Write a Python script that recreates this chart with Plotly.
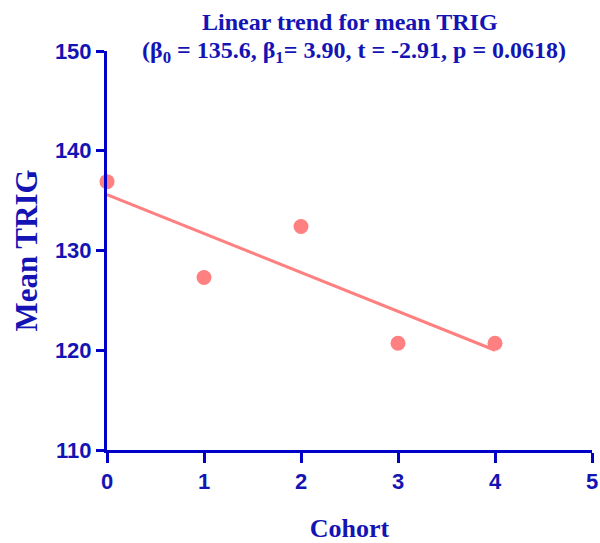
import plotly.graph_objects as go

cohort = [0, 1, 2, 3, 4]
mean_trig = [136.9, 127.3, 132.4, 120.7, 120.7]
beta0 = 135.6
slope = -3.90
trend_x = [0, 4]
trend_y = [beta0 + slope * x for x in trend_x]
x_ticks = [0, 1, 2, 3, 4, 5]
y_ticks = [110, 120, 130, 140, 150]
title_lines = ["Linear trend for mean TRIG",
               "(β<sub>0</sub> = 135.6, β<sub>1</sub>= 3.90, t = -2.91, p = 0.0618)"]

axis_col = "#0000c8"
text_col = "#1414b4"
pink = "#ff8080"
serif = "Liberation Serif, Times New Roman, serif"
sans = "Liberation Sans, Arial, sans-serif"

fig = go.Figure()
fig.add_trace(go.Scatter(x=trend_x, y=trend_y, mode="lines",
                         line=dict(color=pink, width=3), cliponaxis=False,
                         showlegend=False, hoverinfo="skip"))
fig.add_trace(go.Scatter(x=cohort, y=mean_trig, mode="markers",
                         marker=dict(color=pink, size=15), cliponaxis=False,
                         showlegend=False))

fig.add_annotation(text="<b>" + title_lines[0] + "</b>", xref="paper", yref="paper",
                   x=0.5, y=1.0, xanchor="center", yanchor="bottom", yshift=14,
                   showarrow=False,
                   font=dict(family=serif, size=24, color=text_col))
fig.add_annotation(text="<b>" + title_lines[1] + "</b>", xref="paper", yref="paper",
                   x=0.51, y=1.0, xanchor="center", yanchor="bottom", yshift=-18,
                   showarrow=False,
                   font=dict(family=serif, size=24, color=text_col))

fig.update_layout(
    width=600, height=543,
    margin=dict(l=107, r=8, t=51, b=93),
    paper_bgcolor="white", plot_bgcolor="white",
    xaxis=dict(
        range=[0, 5], tickvals=x_ticks, ticktext=[str(v) for v in x_ticks],
        showgrid=False, zeroline=False, automargin=False,
        showline=True, linecolor=axis_col, linewidth=3,
        ticks="outside", ticklen=10, tickwidth=3, tickcolor=axis_col,
        tickfont=dict(family=sans, size=22, color=text_col, weight="bold"),
        title=dict(text="<b>Cohort</b>", standoff=26,
                   font=dict(family=serif, size=26, color=text_col)),
    ),
    yaxis=dict(
        range=[110, 150], tickvals=y_ticks, ticktext=[str(v) for v in y_ticks],
        showgrid=False, zeroline=False, automargin=False,
        showline=True, linecolor=axis_col, linewidth=3,
        ticks="outside", ticklen=8, tickwidth=3, tickcolor=axis_col,
        tickfont=dict(family=sans, size=22, color=text_col, weight="bold"),
        title=dict(text="<b>Mean TRIG</b>", standoff=9,
                   font=dict(family=serif, size=31, color=text_col)),
    ),
)

fig.write_html("out.html", config={"displayModeBar": False},
               post_script="document.body.style.margin='0';document.body.style.overflow='hidden';")
